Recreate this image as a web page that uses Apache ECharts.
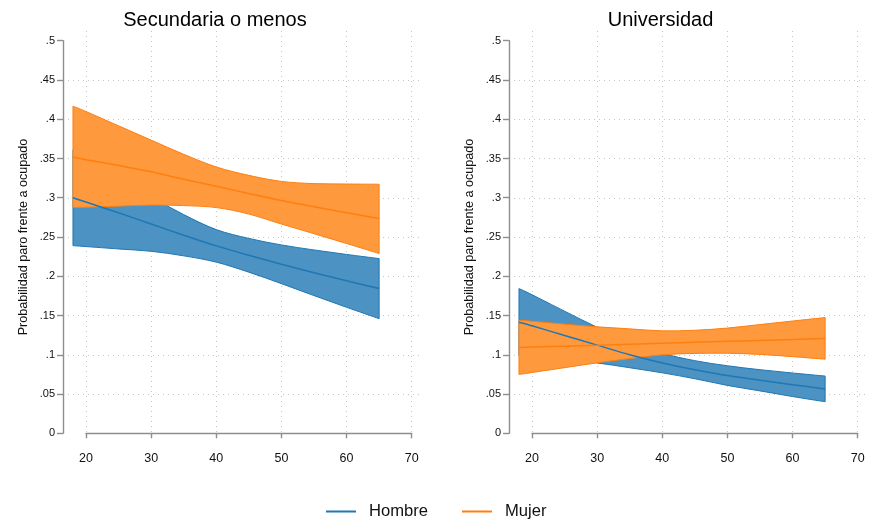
<!DOCTYPE html>
<html>
<head>
<meta charset="utf-8">
<script src="https://cdn.jsdelivr.net/npm/echarts@6/dist/echarts.min.js"></script>
<style>html,body{margin:0;padding:0;background:#fff}#c{width:878px;height:526px}</style>
</head>
<body>
<div id="c"></div>
<script>
const ages = [18, 20, 25, 30, 35, 40, 45, 50, 55, 60, 65];
const panelTitles = ['Secundaria o menos', 'Universidad'];
const legendNames = ['Hombre', 'Mujer'];
const xTicks = [20, 30, 40, 50, 60, 70];
const yTickLabels = ['0', '.05', '.1', '.15', '.2', '.25', '.3', '.35', '.4', '.45', '.5'];
const yAxisTitle = 'Probabilidad paro frente a ocupado';

// Secundaria o menos
const secHombreMean = [0.300, 0.2945, 0.2808, 0.2665, 0.2523, 0.2387, 0.2267, 0.2153, 0.2045, 0.1942, 0.1843];
const secHombreUp   = [0.361, 0.3512, 0.3268, 0.3012, 0.2785, 0.2594, 0.2482, 0.2399, 0.2335, 0.2278, 0.2225];
const secHombreLow  = [0.239, 0.2378, 0.2348, 0.2318, 0.2260, 0.2180, 0.2052, 0.1906, 0.1754, 0.1605, 0.1460];
const secMujerMean  = [0.352, 0.3485, 0.3410, 0.3330, 0.3235, 0.3145, 0.3055, 0.2965, 0.2885, 0.2810, 0.2735];
const secMujerUp    = [0.4166, 0.4098, 0.3916, 0.3734, 0.3553, 0.3392, 0.3285, 0.3208, 0.3180, 0.3175, 0.3172];
const secMujerLow   = [0.2875, 0.2880, 0.2893, 0.2907, 0.2900, 0.2875, 0.2792, 0.2665, 0.2542, 0.2417, 0.2290];

// Universidad
const uniHombreMean = [0.1415, 0.1370, 0.1245, 0.1123, 0.1000, 0.0895, 0.0810, 0.0735, 0.0675, 0.0618, 0.0565];
const uniHombreUp   = [0.1843, 0.1765, 0.1555, 0.1350, 0.1165, 0.1020, 0.0925, 0.0860, 0.0810, 0.0768, 0.0729];
const uniHombreLow  = [0.0987, 0.0975, 0.0935, 0.0896, 0.0835, 0.0770, 0.0695, 0.0610, 0.0540, 0.0468, 0.0402];
const uniMujerMean  = [0.1093, 0.1098, 0.1110, 0.1122, 0.1135, 0.1147, 0.1159, 0.1171, 0.1183, 0.1196, 0.1208];
const uniMujerUp    = [0.1440, 0.1427, 0.1390, 0.1356, 0.1330, 0.1305, 0.1312, 0.1340, 0.1385, 0.1430, 0.1474];
const uniMujerLow   = [0.0749, 0.0774, 0.0836, 0.0898, 0.0952, 0.1000, 0.1017, 0.1019, 0.1005, 0.0976, 0.0944];

const panels = [
  { h: [secHombreLow, secHombreMean, secHombreUp], m: [secMujerLow, secMujerMean, secMujerUp] },
  { h: [uniHombreLow, uniHombreMean, uniHombreUp], m: [uniMujerLow, uniMujerMean, uniMujerUp] }
];

const FONT = '"Liberation Sans", Arial, Helvetica, sans-serif';
const LINE = { h: '#1f77b4', m: '#ff7f0e' };
const FILL = { h: '#4c92c3', m: '#ff993e' };
const AXC = '#8e8e8e';
const GRIDC = '#c4c4c4';

function pairs(xs, ys) { return xs.map((x, i) => [x, ys[i]]); }

// Catmull-Rom -> cubic bezier path segments through pixel points (rendering only)
function curveCmds(pts, startCmd) {
  let d = startCmd + pts[0][0].toFixed(2) + ' ' + pts[0][1].toFixed(2);
  for (let i = 0; i < pts.length - 1; i++) {
    const p0 = pts[Math.max(i - 1, 0)], p1 = pts[i], p2 = pts[i + 1], p3 = pts[Math.min(i + 2, pts.length - 1)];
    const c1x = p1[0] + (p2[0] - p0[0]) / 6, c1y = p1[1] + (p2[1] - p0[1]) / 6;
    const c2x = p2[0] - (p3[0] - p1[0]) / 6, c2y = p2[1] - (p3[1] - p1[1]) / 6;
    d += ' C' + c1x.toFixed(2) + ' ' + c1y.toFixed(2) + ' ' + c2x.toFixed(2) + ' ' + c2y.toFixed(2) + ' ' + p2[0].toFixed(2) + ' ' + p2[1].toFixed(2);
  }
  return d;
}

function bandSeries(gi, low, up, k, name) {
  return {
    type: 'custom', name, xAxisIndex: gi, yAxisIndex: gi, silent: true, z: 2,
    data: [[ages[0], low[0]]],
    encode: { x: 0, y: 1 },
    renderItem: function (params, api) {
      const upPts = ages.map((a, i) => api.coord([a, up[i]]));
      const lowPts = ages.map((a, i) => api.coord([a, low[i]])).reverse();
      const d = curveCmds(upPts, 'M') + curveCmds(lowPts, ' L') + ' Z';
      return {
        type: 'path',
        shape: { pathData: d },
        style: { fill: FILL[k], stroke: LINE[k], lineWidth: 1 }
      };
    }
  };
}

const grid = [], xAxis = [], yAxis = [], series = [], title = [];
const SM = 0.3;
const PXY = 325.7 / 50; // px per year

panels.forEach((p, pi) => {
  const dx = pi * 446;
  const g0 = pi * 4;
  // D: data grid (x 15..70, y 0..0.5)
  grid.push({ left: 86 - 5 * PXY + dx, top: 40.7, width: 55 * PXY, height: 392.6 });
  xAxis.push({ gridIndex: g0, type: 'value', min: 15, max: 70, show: false });
  yAxis.push({ gridIndex: g0, type: 'value', min: 0, max: 0.5, show: false });
  // B: axes grid
  grid.push({ left: 86 + dx, top: 40.7, width: 325.7, height: 392.6 });
  xAxis.push({
    gridIndex: g0 + 1, type: 'value', min: 20, max: 70, interval: 10, offset: 10,
    axisLine: { show: true, lineStyle: { color: AXC, width: 1.4 } },
    axisTick: { show: true, length: 5, lineStyle: { color: AXC, width: 1.4 } },
    axisLabel: { show: true, margin: 9, fontSize: 12.5, color: '#111', fontFamily: FONT,
      formatter: v => String(xTicks[Math.round((v - 20) / 10)]) },
    splitLine: { show: false }
  });
  yAxis.push({
    gridIndex: g0 + 1, type: 'value', min: 0, max: 0.5, interval: 0.05, offset: 23,
    name: yAxisTitle, nameLocation: 'middle', nameGap: 33,
    nameTextStyle: { fontSize: 12.6, color: '#111', fontFamily: FONT },
    axisLine: { show: true, lineStyle: { color: AXC, width: 1.4 } },
    axisTick: { show: true, length: 6, lineStyle: { color: AXC, width: 1.4 } },
    axisLabel: { show: true, margin: 8, fontSize: 11, color: '#111', fontFamily: FONT,
      formatter: v => yTickLabels[Math.round(v / 0.05)] },
    splitLine: { show: false }
  });
  // V: vertical grid lines
  grid.push({ left: 86 + dx, top: 31, width: 325.7, height: 410 });
  xAxis.push({
    gridIndex: g0 + 2, type: 'value', min: 20, max: 70, interval: 10,
    axisLine: { show: false }, axisTick: { show: false }, axisLabel: { show: false },
    splitLine: { show: true, lineStyle: { color: GRIDC, width: 1, type: [1, 4] } }
  });
  yAxis.push({ gridIndex: g0 + 2, type: 'value', min: 0, max: 1, show: false });
  // H: horizontal grid lines
  grid.push({ left: 68 + dx, top: 80, width: 354, height: 314 });
  xAxis.push({ gridIndex: g0 + 3, type: 'value', min: 0, max: 1, show: false });
  yAxis.push({
    gridIndex: g0 + 3, type: 'value', min: 0.05, max: 0.45, interval: 0.05,
    axisLine: { show: false }, axisTick: { show: false }, axisLabel: { show: false },
    splitLine: { show: true, lineStyle: { color: GRIDC, width: 1, type: [1, 4] } }
  });

  // bands: Hombre first, Mujer on top
  series.push(bandSeries(g0, p.h[0], p.h[2], 'h', 'Hombre IC'));
  series.push(bandSeries(g0, p.m[0], p.m[2], 'm', 'Mujer IC'));
  // mean lines on top
  ['h', 'm'].forEach(k => {
    const mean = p[k][1];
    series.push({
      type: 'line', name: legendNames[k === 'h' ? 0 : 1], xAxisIndex: g0, yAxisIndex: g0,
      data: pairs(ages, mean), symbol: 'none', smooth: SM, z: 5,
      itemStyle: { color: LINE[k] },
      lineStyle: { color: LINE[k], width: 1.5 }
    });
  });

  title.push({
    text: panelTitles[pi], left: [210, 655.5][pi], textAlign: 'center', top: 5,
    textStyle: { fontSize: 20, fontWeight: 'normal', color: '#000', fontFamily: FONT }
  });
});

const chart = echarts.init(document.getElementById('c'), null, { renderer: 'canvas' });
chart.setOption({
  animation: false,
  backgroundColor: '#fff',
  title,
  grid, xAxis, yAxis, series,
  legend: {
    data: legendNames, left: 321, top: 498, icon: 'rect', itemWidth: 30, itemHeight: 2, itemGap: 34,
    textStyle: { fontSize: 16.6, color: '#111', fontFamily: FONT, padding: [0, 0, 0, 8] }
  }
});
</script>
</body>
</html>
